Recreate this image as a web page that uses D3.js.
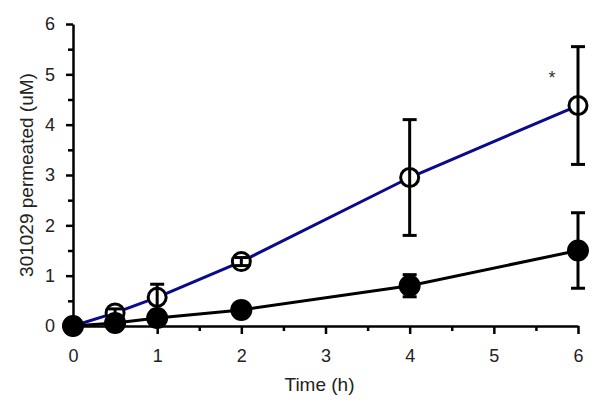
<!DOCTYPE html>
<html>
<head>
<meta charset="utf-8">
<script src="https://cdn.jsdelivr.net/npm/d3@7"></script>
<style>
  body { margin: 0; background: #fff; }
  svg { font-family: 'Liberation Sans', Arial, sans-serif; }
</style>
</head>
<body>
<svg id="graphic" width="604" height="411"></svg>
<script>
const times = [0, 0.5, 1, 2, 4, 6];
const openValues = [0, 0.26, 0.57, 1.28, 2.95, 4.38];
const openErrors = [0, 0.08, 0.26, 0.08, 1.15, 1.17];
const filledValues = [0, 0.06, 0.16, 0.32, 0.8, 1.5];
const filledErrors = [0, 0.03, 0.05, 0.05, 0.22, 0.75];
const xTicks = [0, 1, 2, 3, 4, 5, 6];
const yTicks = [0, 1, 2, 3, 4, 5, 6];

const margins = {left: 73, right: 26, top: 24, bottom: 85};
const width = 604, height = 411;

const svg = d3.select('#graphic');

const xScale = d3.scaleLinear()
    .domain([0, 6])
    .range([margins.left, width - margins.right]);

const yScale = d3.scaleLinear()
    .domain([0, 6])
    .range([height - margins.bottom, margins.top]);

// minor ticks at halves
const minor = d3.range(0.5, 6, 1);

svg.append('g')
    .attr('transform', `translate(0, ${yScale(0)})`)
    .call(d3.axisBottom(xScale).tickValues(minor).tickSize(5).tickFormat(''))
    .call((g) => g.select('.domain').remove())
    .call((g) => g.selectAll('line').attr('stroke-width', 2.5));

svg.append('g')
    .attr('transform', `translate(${xScale(0)}, 0)`)
    .call(d3.axisLeft(yScale).tickValues(minor).tickSize(5).tickFormat(''))
    .call((g) => g.select('.domain').remove())
    .call((g) => g.selectAll('line').attr('stroke-width', 2.5));

const xAxis = svg.append('g')
    .attr('transform', `translate(0, ${yScale(0)})`)
    .call(d3.axisBottom(xScale).tickValues(xTicks).tickSize(8).tickSizeOuter(0)
        .tickPadding(15).tickFormat(d3.format('d')));

const yAxis = svg.append('g')
    .attr('transform', `translate(${xScale(0)}, 0)`)
    .call(d3.axisLeft(yScale).tickValues(yTicks).tickSize(7).tickSizeOuter(0)
        .tickPadding(11).tickFormat(d3.format('d')));

[xAxis, yAxis].forEach((g) => {
  g.select('.domain').attr('stroke-width', 2.5);
  g.selectAll('.tick line').attr('stroke-width', 2.5);
  g.selectAll('.tick text').attr('font-size', 18).attr('fill', '#222');
});

svg.append('text')
    .attr('x', (xScale(0) + xScale(6)) / 2 - 6)
    .attr('y', 391)
    .attr('text-anchor', 'middle')
    .attr('font-size', 19)
    .attr('fill', '#222')
    .text('Time (h)');

svg.append('text')
    .attr('transform', `translate(33, 175) rotate(-90)`)
    .attr('text-anchor', 'middle')
    .attr('font-size', 19)
    .attr('fill', '#222')
    .text('301029 permeated (uM)');

const openData = times.map((t, i) => ({t, v: openValues[i], e: openErrors[i]}));
const filledData = times.map((t, i) => ({t, v: filledValues[i], e: filledErrors[i]}));

const line = d3.line()
    .x((d) => xScale(d.t))
    .y((d) => yScale(d.v));

function drawSeries(data, color, fill) {
  svg.append('path')
      .datum(data)
      .attr('d', line)
      .attr('fill', 'none')
      .attr('stroke', color)
      .attr('stroke-width', 3);

  svg.selectAll(null)
      .data(data)
      .enter()
      .append('circle')
      .attr('cx', (d) => xScale(d.t))
      .attr('cy', (d) => yScale(d.v))
      .attr('r', fill === 'black' ? 9.5 : 9)
      .attr('fill', fill)
      .attr('stroke', 'black')
      .attr('stroke-width', 3);

  const bars = svg.selectAll(null)
      .data(data.filter((d) => d.e > 0))
      .enter()
      .append('g')
      .attr('stroke', 'black')
      .attr('stroke-width', 3);

  bars.append('line')
      .attr('x1', (d) => xScale(d.t))
      .attr('x2', (d) => xScale(d.t))
      .attr('y1', (d) => yScale(d.v + d.e))
      .attr('y2', (d) => yScale(d.v - d.e));

  bars.append('line')
      .attr('x1', (d) => xScale(d.t) - 7)
      .attr('x2', (d) => xScale(d.t) + 7)
      .attr('y1', (d) => yScale(d.v + d.e))
      .attr('y2', (d) => yScale(d.v + d.e));

  bars.append('line')
      .attr('x1', (d) => xScale(d.t) - 7)
      .attr('x2', (d) => xScale(d.t) + 7)
      .attr('y1', (d) => yScale(d.v - d.e))
      .attr('y2', (d) => yScale(d.v - d.e));
}

drawSeries(openData, '#0a0a8c', 'white');
drawSeries(filledData, 'black', 'black');

svg.append('text')
    .attr('x', xScale(5.69))
    .attr('y', yScale(4.8))
    .attr('text-anchor', 'middle')
    .attr('font-size', 18)
    .attr('fill', '#333')
    .text('*');
</script>
</body>
</html>
